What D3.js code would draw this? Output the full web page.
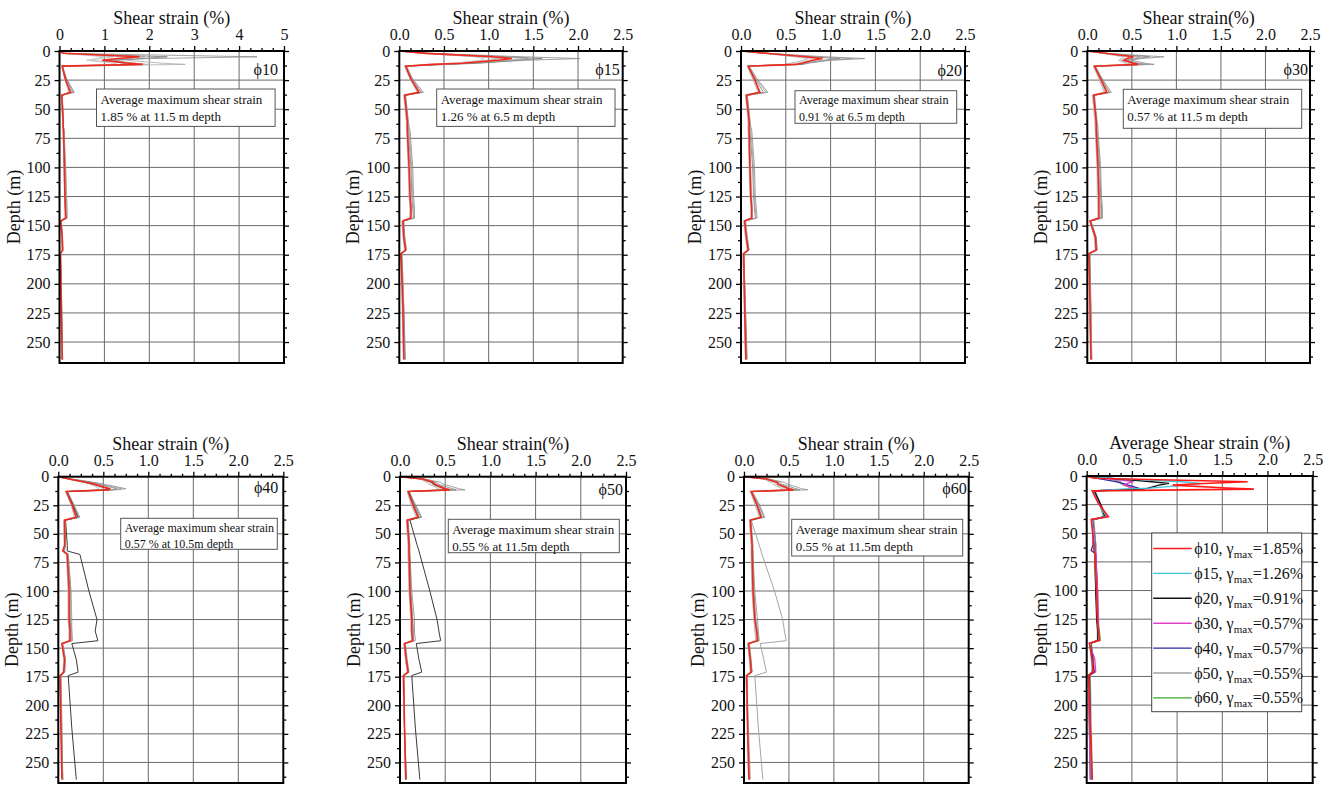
<!DOCTYPE html>
<html>
<head>
<meta charset="utf-8">
<script src="https://cdn.jsdelivr.net/npm/d3@7"></script>
<style>
  body { margin: 0; background: #fff; }
  svg { display: block; font-family: "Liberation Serif", "Times New Roman", serif; }
  svg text { font-family: "Liberation Serif", "Times New Roman", serif; }
</style>
</head>
<body>
<svg id="chart" width="1335" height="787"></svg>
<script>
// Depth grid (m) shared by every strain profile below
const depthGrid = [0, 2, 5, 6.5, 8, 10.5, 11.5, 13, 24, 35.5, 38, 60, 65, 68, 100, 125, 135, 143.5, 146, 160, 171, 174, 220, 265];
const depthTicks = [0, 25, 50, 75, 100, 125, 150, 175, 200, 225, 250];
const strainTicksWide = [0, 1, 2, 3, 4, 5];
const strainTicks = [0, 0.5, 1.0, 1.5, 2.0, 2.5];

// Average shear strain profiles (%) per friction angle
const meanPhi10 = [0, 0.08, 1.78, 1.30, 0.95, 1.55, 1.85, 0.06, 0.13, 0.24, 0.05, 0.08, 0.08, 0.09, 0.11, 0.12, 0.13, 0.14, 0.03, 0.06, 0.07, 0.02, 0.04, 0.06];
const meanPhi15 = [0, 0.30, 1.05, 1.26, 1.10, 0.70, 0.38, 0.07, 0.13, 0.22, 0.06, 0.09, 0.09, 0.09, 0.11, 0.12, 0.13, 0.13, 0.04, 0.05, 0.07, 0.02, 0.04, 0.05];
const meanPhi20 = [0, 0.28, 0.72, 0.91, 0.80, 0.68, 0.62, 0.08, 0.15, 0.21, 0.06, 0.09, 0.09, 0.09, 0.10, 0.11, 0.12, 0.12, 0.04, 0.06, 0.08, 0.03, 0.04, 0.055];
const meanPhi30 = [0, 0.20, 0.52, 0.45, 0.41, 0.52, 0.57, 0.08, 0.15, 0.22, 0.07, 0.10, 0.10, 0.10, 0.12, 0.13, 0.13, 0.13, 0.03, 0.09, 0.10, 0.02, 0.03, 0.04];
const meanPhi40 = [0, 0.12, 0.32, 0.40, 0.46, 0.57, 0.56, 0.09, 0.15, 0.20, 0.07, 0.07, 0.05, 0.10, 0.12, 0.12, 0.13, 0.13, 0.04, 0.07, 0.06, 0.02, 0.03, 0.04];
const meanPhi50 = [0, 0.25, 0.37, 0.38, 0.42, 0.50, 0.55, 0.09, 0.14, 0.20, 0.08, 0.10, 0.10, 0.10, 0.11, 0.13, 0.13, 0.14, 0.05, 0.07, 0.09, 0.04, 0.05, 0.065];
const meanPhi60 = [0, 0.25, 0.37, 0.38, 0.42, 0.50, 0.55, 0.08, 0.14, 0.19, 0.07, 0.09, 0.09, 0.09, 0.10, 0.12, 0.14, 0.15, 0.05, 0.07, 0.08, 0.03, 0.04, 0.055];

// Individual ground-motion profiles (%) per friction angle
const motionsPhi10 = [
  [0, 0.10, 4.40, 2.00, 1.20, 1.60, 1.90, 0.07, 0.15, 0.30, 0.06, 0.09, 0.09, 0.10, 0.13, 0.15, 0.16, 0.17, 0.03, 0.06, 0.07, 0.02, 0.04, 0.07],
  [0, 0.06, 1.40, 1.60, 1.50, 2.30, 2.80, 0.05, 0.14, 0.28, 0.05, 0.08, 0.08, 0.09, 0.12, 0.13, 0.14, 0.15, 0.02, 0.05, 0.06, 0.02, 0.04, 0.06],
  [0, 0.09, 2.40, 1.80, 1.10, 1.40, 1.60, 0.06, 0.16, 0.33, 0.05, 0.07, 0.07, 0.08, 0.10, 0.12, 0.13, 0.14, 0.03, 0.06, 0.07, 0.02, 0.05, 0.07],
  [0, 0.07, 1.20, 0.90, 0.70, 1.50, 2.00, 0.06, 0.12, 0.22, 0.04, 0.07, 0.08, 0.09, 0.11, 0.12, 0.13, 0.13, 0.03, 0.05, 0.06, 0.02, 0.03, 0.05],
  [0, 0.08, 1.90, 1.40, 1.00, 1.70, 1.50, 0.05, 0.13, 0.26, 0.06, 0.09, 0.09, 0.10, 0.14, 0.16, 0.17, 0.17, 0.04, 0.07, 0.08, 0.03, 0.05, 0.07],
  [0, 0.05, 1.00, 0.80, 0.60, 1.20, 1.30, 0.05, 0.11, 0.20, 0.05, 0.07, 0.07, 0.08, 0.10, 0.11, 0.12, 0.12, 0.02, 0.05, 0.06, 0.02, 0.04, 0.05]
];
const motionsPhi15 = [
  [0, 0.35, 1.40, 2.02, 1.40, 0.80, 0.50, 0.08, 0.15, 0.27, 0.07, 0.10, 0.11, 0.12, 0.15, 0.16, 0.17, 0.17, 0.05, 0.06, 0.08, 0.03, 0.05, 0.07],
  [0, 0.25, 0.90, 1.10, 1.05, 0.80, 0.45, 0.06, 0.12, 0.20, 0.05, 0.08, 0.08, 0.09, 0.10, 0.11, 0.12, 0.12, 0.03, 0.05, 0.06, 0.02, 0.04, 0.05],
  [0, 0.32, 1.20, 1.60, 1.30, 0.90, 0.55, 0.07, 0.14, 0.25, 0.06, 0.09, 0.10, 0.10, 0.13, 0.14, 0.15, 0.16, 0.04, 0.06, 0.07, 0.02, 0.05, 0.06],
  [0, 0.28, 0.95, 1.15, 0.95, 0.60, 0.30, 0.07, 0.13, 0.22, 0.06, 0.09, 0.09, 0.10, 0.12, 0.13, 0.14, 0.14, 0.04, 0.05, 0.07, 0.02, 0.04, 0.05],
  [0, 0.30, 1.10, 1.45, 1.20, 0.75, 0.40, 0.08, 0.14, 0.24, 0.07, 0.10, 0.10, 0.11, 0.14, 0.15, 0.16, 0.17, 0.05, 0.06, 0.08, 0.03, 0.05, 0.06],
  [0, 0.26, 0.85, 0.95, 0.90, 0.65, 0.35, 0.06, 0.12, 0.21, 0.05, 0.08, 0.08, 0.08, 0.10, 0.11, 0.12, 0.12, 0.03, 0.04, 0.06, 0.02, 0.03, 0.05]
];
const motionsPhi20 = [
  [0, 0.30, 0.95, 1.38, 1.00, 0.75, 0.70, 0.09, 0.18, 0.30, 0.07, 0.10, 0.11, 0.12, 0.15, 0.16, 0.17, 0.18, 0.05, 0.07, 0.09, 0.03, 0.05, 0.07],
  [0, 0.25, 0.60, 0.75, 0.70, 0.55, 0.50, 0.07, 0.13, 0.19, 0.05, 0.08, 0.08, 0.08, 0.09, 0.10, 0.11, 0.11, 0.03, 0.05, 0.07, 0.02, 0.04, 0.05],
  [0, 0.29, 0.80, 1.10, 0.90, 0.72, 0.68, 0.08, 0.16, 0.25, 0.06, 0.09, 0.10, 0.10, 0.13, 0.14, 0.15, 0.16, 0.04, 0.06, 0.08, 0.03, 0.05, 0.06],
  [0, 0.27, 0.68, 0.85, 0.82, 0.65, 0.58, 0.07, 0.14, 0.22, 0.06, 0.09, 0.09, 0.09, 0.11, 0.12, 0.13, 0.13, 0.04, 0.06, 0.08, 0.03, 0.04, 0.05],
  [0, 0.30, 0.75, 1.25, 0.95, 0.70, 0.60, 0.09, 0.17, 0.28, 0.07, 0.10, 0.10, 0.11, 0.14, 0.15, 0.16, 0.17, 0.05, 0.07, 0.09, 0.03, 0.05, 0.06],
  [0, 0.26, 0.65, 0.80, 0.75, 0.62, 0.55, 0.07, 0.14, 0.20, 0.05, 0.08, 0.08, 0.08, 0.10, 0.11, 0.12, 0.12, 0.03, 0.05, 0.07, 0.02, 0.04, 0.05]
];
const motionsPhi30 = [
  [0, 0.22, 0.86, 0.60, 0.50, 0.65, 0.75, 0.09, 0.17, 0.27, 0.08, 0.11, 0.12, 0.12, 0.15, 0.16, 0.17, 0.17, 0.04, 0.10, 0.11, 0.03, 0.04, 0.05],
  [0, 0.18, 0.42, 0.40, 0.36, 0.45, 0.50, 0.07, 0.13, 0.19, 0.06, 0.09, 0.09, 0.09, 0.11, 0.12, 0.12, 0.12, 0.03, 0.08, 0.09, 0.02, 0.03, 0.04],
  [0, 0.21, 0.70, 0.55, 0.45, 0.55, 0.65, 0.08, 0.16, 0.25, 0.07, 0.10, 0.11, 0.11, 0.14, 0.15, 0.16, 0.16, 0.04, 0.10, 0.11, 0.02, 0.04, 0.05],
  [0, 0.19, 0.48, 0.42, 0.40, 0.50, 0.55, 0.07, 0.14, 0.21, 0.06, 0.09, 0.09, 0.10, 0.12, 0.12, 0.13, 0.13, 0.03, 0.09, 0.10, 0.02, 0.03, 0.04],
  [0, 0.20, 0.60, 0.50, 0.43, 0.58, 0.68, 0.09, 0.16, 0.24, 0.08, 0.10, 0.10, 0.11, 0.13, 0.14, 0.15, 0.15, 0.04, 0.09, 0.10, 0.03, 0.04, 0.05],
  [0, 0.17, 0.40, 0.38, 0.35, 0.42, 0.45, 0.07, 0.13, 0.20, 0.06, 0.08, 0.09, 0.09, 0.11, 0.11, 0.12, 0.12, 0.03, 0.08, 0.09, 0.02, 0.03, 0.04]
];
const motionsPhi40 = [
  [0, 0.15, 0.40, 0.50, 0.60, 0.75, 0.65, 0.10, 0.17, 0.24, 0.08, 0.08, 0.07, 0.11, 0.14, 0.14, 0.15, 0.15, 0.05, 0.08, 0.07, 0.03, 0.04, 0.05],
  [0, 0.10, 0.28, 0.35, 0.40, 0.45, 0.45, 0.08, 0.14, 0.18, 0.06, 0.07, 0.06, 0.09, 0.11, 0.11, 0.12, 0.12, 0.04, 0.06, 0.06, 0.02, 0.03, 0.04],
  [0, 0.13, 0.36, 0.45, 0.52, 0.65, 0.60, 0.09, 0.16, 0.22, 0.07, 0.08, 0.06, 0.10, 0.13, 0.13, 0.14, 0.14, 0.04, 0.07, 0.07, 0.02, 0.03, 0.05],
  [0, 0.12, 0.30, 0.38, 0.44, 0.55, 0.52, 0.10, 0.16, 0.22, 0.08, 0.10, 0.10, 0.24, 0.34, 0.43, 0.41, 0.44, 0.15, 0.20, 0.22, 0.11, 0.15, 0.20],
  [0, 0.14, 0.38, 0.48, 0.55, 0.70, 0.62, 0.10, 0.17, 0.23, 0.08, 0.08, 0.06, 0.11, 0.14, 0.15, 0.15, 0.16, 0.05, 0.08, 0.07, 0.03, 0.04, 0.05],
  [0, 0.11, 0.30, 0.38, 0.42, 0.50, 0.50, 0.08, 0.14, 0.19, 0.06, 0.07, 0.05, 0.09, 0.11, 0.11, 0.12, 0.12, 0.04, 0.06, 0.05, 0.02, 0.03, 0.04]
];
const motionsPhi50 = [
  [0, 0.28, 0.45, 0.48, 0.55, 0.65, 0.72, 0.10, 0.17, 0.24, 0.09, 0.11, 0.11, 0.11, 0.13, 0.16, 0.16, 0.17, 0.06, 0.08, 0.10, 0.04, 0.05, 0.07],
  [0, 0.22, 0.30, 0.32, 0.36, 0.42, 0.45, 0.08, 0.12, 0.18, 0.07, 0.09, 0.09, 0.09, 0.10, 0.12, 0.12, 0.13, 0.04, 0.06, 0.08, 0.03, 0.05, 0.06],
  [0, 0.26, 0.40, 0.42, 0.48, 0.58, 0.62, 0.09, 0.16, 0.23, 0.08, 0.10, 0.10, 0.11, 0.12, 0.14, 0.15, 0.15, 0.05, 0.07, 0.09, 0.04, 0.05, 0.07],
  [0, 0.24, 0.35, 0.36, 0.40, 0.48, 0.52, 0.10, 0.15, 0.21, 0.11, 0.19, 0.21, 0.22, 0.33, 0.41, 0.43, 0.45, 0.18, 0.21, 0.24, 0.13, 0.17, 0.22],
  [0, 0.25, 0.38, 0.40, 0.45, 0.52, 0.58, 0.09, 0.15, 0.21, 0.08, 0.10, 0.10, 0.10, 0.12, 0.14, 0.14, 0.15, 0.05, 0.07, 0.09, 0.04, 0.05, 0.06],
  [0, 0.23, 0.33, 0.35, 0.38, 0.46, 0.50, 0.08, 0.13, 0.19, 0.07, 0.09, 0.09, 0.09, 0.10, 0.12, 0.13, 0.13, 0.05, 0.06, 0.08, 0.03, 0.05, 0.06]
];
const motionsPhi60 = [
  [0, 0.28, 0.45, 0.48, 0.55, 0.64, 0.71, 0.09, 0.17, 0.23, 0.08, 0.10, 0.10, 0.10, 0.12, 0.15, 0.16, 0.17, 0.06, 0.08, 0.09, 0.03, 0.05, 0.07],
  [0, 0.22, 0.30, 0.32, 0.36, 0.42, 0.45, 0.07, 0.12, 0.17, 0.06, 0.08, 0.08, 0.08, 0.09, 0.11, 0.12, 0.13, 0.04, 0.06, 0.07, 0.02, 0.04, 0.05],
  [0, 0.26, 0.40, 0.42, 0.48, 0.58, 0.62, 0.09, 0.16, 0.22, 0.07, 0.09, 0.10, 0.10, 0.11, 0.13, 0.15, 0.16, 0.05, 0.07, 0.09, 0.03, 0.04, 0.06],
  [0, 0.24, 0.35, 0.36, 0.40, 0.48, 0.52, 0.09, 0.15, 0.20, 0.08, 0.17, 0.19, 0.20, 0.34, 0.43, 0.45, 0.47, 0.18, 0.22, 0.25, 0.12, 0.16, 0.21],
  [0, 0.25, 0.38, 0.40, 0.45, 0.52, 0.58, 0.08, 0.15, 0.20, 0.07, 0.09, 0.09, 0.10, 0.11, 0.13, 0.15, 0.15, 0.05, 0.07, 0.08, 0.03, 0.04, 0.06],
  [0, 0.23, 0.33, 0.35, 0.38, 0.46, 0.50, 0.07, 0.13, 0.18, 0.06, 0.08, 0.08, 0.08, 0.09, 0.11, 0.13, 0.14, 0.04, 0.06, 0.07, 0.02, 0.04, 0.05]
];

const phiLabels = ["\u03D510", "\u03D515", "\u03D520", "\u03D530", "\u03D540", "\u03D550", "\u03D560"];
const gammaMax = ["1.85", "1.26", "0.91", "0.57", "0.57", "0.55", "0.55"];
const noteLines = [
  ["Average maximum shear strain", "1.85 % at 11.5 m depth"],
  ["Average maximum shear strain", "1.26 % at 6.5 m depth"],
  ["Average maximum shear strain", "0.91 % at 6.5 m depth"],
  ["Average maximum shear strain", "0.57 % at 11.5 m depth"],
  ["Average maximum shear strain", "0.57 % at 10.5m depth"],
  ["Average maximum shear strain", "0.55 % at 11.5m depth"],
  ["Average maximum shear strain", "0.55 % at 11.5m depth"]
];
const axisTitles = ["Shear strain (%)", "Shear strain (%)", "Shear strain (%)", "Shear strain(%)",
                    "Shear strain (%)", "Shear strain(%)", "Shear strain (%)", "Average Shear strain (%)"];

const meanSeries = [meanPhi10, meanPhi15, meanPhi20, meanPhi30, meanPhi40, meanPhi50, meanPhi60];
const motionSeries = [motionsPhi10, motionsPhi15, motionsPhi20, motionsPhi30, motionsPhi40, motionsPhi50, motionsPhi60];

// Layout and styling
const DEPTH_MAX = 268;
const SERIF = "'Liberation Serif', 'Times New Roman', serif";
const grayShades = ["#8c8c8c", "#a9a9a9", "#7a7a7a", "#b8b8b8", "#9a9a9a", "#c2c2c2"];
const avgColors = ["#ff1a1a", "#3ec6d6", "#111111", "#e040c8", "#2b2ba0", "#a0a0a0", "#3aa82a"];

const panels = [
  { x0: 59.5,  x1: 284,   y0: 51,    y1: 363, wide: true,  note: { dx: 37,   dy: 38,   w: 178.6, h: 37.4, fs: 13 }, phiDy: 24, phiDx: 6 },
  { x0: 399.3, x1: 622.7, y0: 51,    y1: 363, note: { dx: 37.4, dy: 38,   w: 178.3, h: 37.4, fs: 13 }, phiDy: 24, phiDx: 3 },
  { x0: 741,   x1: 965,   y0: 51,    y1: 363, note: { dx: 54,   dy: 39.7, w: 161.7, h: 32.6, fs: 12 }, phiDy: 25, phiDx: 3 },
  { x0: 1087.3,x1: 1310,  y0: 51,    y1: 363, note: { dx: 36,   dy: 38.3, w: 178.4, h: 39,   fs: 13 }, phiDy: 24, phiDx: 2 },
  { x0: 58.3,  x1: 283.3, y0: 476.7, y1: 783, note: { dx: 62.4, dy: 41.6, w: 156.6, h: 31,   fs: 12 }, phiDy: 16, phiDx: 5, outlier: 3, outlierColor: "#3a3a3a" },
  { x0: 400,   x1: 626,   y0: 476.7, y1: 783, note: { dx: 48.3, dy: 42.6, w: 171,   h: 33.4, fs: 13 }, phiDy: 18, phiDx: 3, outlier: 3, outlierColor: "#3a3a3a" },
  { x0: 744,   x1: 968.7, y0: 476.7, y1: 783, note: { dx: 47.7, dy: 42.6, w: 171,   h: 36.7, fs: 13 }, phiDy: 17, phiDx: 2, outlier: 3, outlierColor: "#a5a5a5" },
  { x0: 1086.7,x1: 1312.7,y0: 476,   y1: 783, summary: true }
];

const svg = d3.select("#chart");
const defs = svg.append("defs");

function profile(values) {
  return values.map((v, i) => [depthGrid[i], v]);
}

function styleAxis(sel) {
  sel.attr("font-family", SERIF).attr("font-size", 16);
  sel.select(".domain").remove();
  sel.selectAll(".tick line").attr("stroke", "#000").attr("stroke-width", 1.3);
  sel.selectAll(".tick text").attr("fill", "#111");
}

function drawPanel(p, idx) {
  const xMax = p.wide ? 5 : 2.5;
  const xt = p.wide ? strainTicksWide : strainTicks;
  const x = d3.scaleLinear().domain([0, xMax]).range([p.x0, p.x1]);
  const y = d3.scaleLinear().domain([0, DEPTH_MAX]).range([p.y0, p.y1]);
  const g = svg.append("g");

  // grid
  g.append("g").selectAll("line").data(xt.slice(1, -1)).join("line")
    .attr("x1", d => x(d)).attr("x2", d => x(d)).attr("y1", p.y0).attr("y2", p.y1)
    .attr("stroke", "#6a6a6a").attr("stroke-width", 1);
  g.append("g").selectAll("line").data(depthTicks.slice(1)).join("line")
    .attr("x1", p.x0).attr("x2", p.x1).attr("y1", d => y(d)).attr("y2", d => y(d))
    .attr("stroke", "#6a6a6a").attr("stroke-width", 1);

  // clip
  const cid = "clip" + idx;
  defs.append("clipPath").attr("id", cid).append("rect")
    .attr("x", p.x0).attr("y", p.y0).attr("width", p.x1 - p.x0).attr("height", p.y1 - p.y0);
  const plot = g.append("g").attr("clip-path", `url(#${cid})`);
  const line = d3.line().x(d => x(d[1])).y(d => y(d[0]));

  if (!p.summary) {
    const motions = motionSeries[idx];
    plot.selectAll("path.motion").data(motions).join("path").attr("class", "motion")
      .attr("d", d => line(profile(d)))
      .attr("fill", "none")
      .attr("stroke", (d, i) => i === p.outlier ? p.outlierColor : grayShades[i % grayShades.length])
      .attr("stroke-width", (d, i) => i === p.outlier ? 1 : 0.8);
    plot.append("path").attr("d", line(profile(meanSeries[idx])))
      .attr("fill", "none").attr("stroke", "#ee2a1e").attr("stroke-width", 1.6);
  } else {
    const order = [6, 5, 4, 3, 2, 1, 0];
    plot.selectAll("path.avg").data(order).join("path").attr("class", "avg")
      .attr("d", k => line(profile(meanSeries[k])))
      .attr("fill", "none").attr("stroke", k => avgColors[k])
      .attr("stroke-width", k => k === 0 ? 1.6 : 1.3);
  }

  // frame
  g.append("rect").attr("x", p.x0).attr("y", p.y0).attr("width", p.x1 - p.x0).attr("height", p.y1 - p.y0)
    .attr("fill", "none").attr("stroke", "#000").attr("stroke-width", 2);

  // axes
  const minorX = d3.range(0, xMax + 1e-9, xMax / 20).filter(v => !xt.some(t => Math.abs(t - v) < 1e-6));
  const minorY = d3.range(12.5, DEPTH_MAX, 25);
  const fmt = p.wide ? d3.format("d") : d3.format(".1f");

  g.append("g").attr("transform", `translate(0,${p.y0})`)
    .call(d3.axisTop(x).tickValues(xt).tickSize(5).tickPadding(6).tickFormat(fmt)).call(styleAxis);
  g.append("g").attr("transform", `translate(0,${p.y0})`)
    .call(d3.axisTop(x).tickValues(minorX).tickSize(3).tickFormat("")).call(styleAxis);
  g.append("g").attr("transform", `translate(${p.x0},0)`)
    .call(d3.axisLeft(y).tickValues(depthTicks).tickSize(5).tickPadding(4).tickFormat(d3.format("d"))).call(styleAxis);
  g.append("g").attr("transform", `translate(${p.x0},0)`)
    .call(d3.axisLeft(y).tickValues(minorY).tickSize(3).tickFormat("")).call(styleAxis);
  g.append("g").attr("transform", `translate(${p.x1},0)`)
    .call(d3.axisRight(y).tickValues(depthTicks).tickSize(5).tickFormat("")).call(styleAxis);
  g.append("g").attr("transform", `translate(${p.x1},0)`)
    .call(d3.axisRight(y).tickValues(minorY).tickSize(3).tickFormat("")).call(styleAxis);

  // axis titles
  g.append("text").attr("x", (p.x0 + p.x1) / 2).attr("y", p.y0 - 27)
    .attr("text-anchor", "middle").attr("font-size", 18).attr("fill", "#111")
    .text(axisTitles[idx]);
  g.append("text")
    .attr("transform", `translate(${p.x0 - 40},${(p.y0 + p.y1) / 2}) rotate(-90)`)
    .attr("text-anchor", "middle").attr("font-size", 18).attr("fill", "#111")
    .text("Depth (m)");

  if (!p.summary) {
    // friction angle tag
    g.append("text").attr("x", p.x1 - p.phiDx).attr("y", p.y0 + p.phiDy)
      .attr("text-anchor", "end").attr("font-size", 16).attr("fill", "#111")
      .text(phiLabels[idx]);

    // peak annotation
    const n = p.note;
    const bx = p.x0 + n.dx, by = p.y0 + n.dy;
    g.append("rect").attr("x", bx).attr("y", by).attr("width", n.w).attr("height", n.h)
      .attr("fill", "#fff").attr("stroke", "#555").attr("stroke-width", 1);
    g.append("text").attr("x", bx + 4).attr("y", by + n.fs + 1.5)
      .attr("font-size", n.fs).attr("fill", "#111").text(noteLines[idx][0]);
    g.append("text").attr("x", bx + 4).attr("y", by + 2 * n.fs + 6)
      .attr("font-size", n.fs).attr("fill", "#111").text(noteLines[idx][1]);
  } else {
    // legend
    const lx = 1151.7, ly = 533, lw = 150, lh = 178.7, rowH = 24.9;
    const lg = g.append("g");
    lg.append("rect").attr("x", lx).attr("y", ly).attr("width", lw).attr("height", lh)
      .attr("fill", "#fff").attr("stroke", "#444").attr("stroke-width", 1);
    const rows = lg.selectAll("g.row").data(d3.range(7)).join("g").attr("class", "row")
      .attr("transform", k => `translate(${lx},${ly + 15.5 + k * rowH})`);
    rows.append("line").attr("x1", 1.5).attr("x2", 40).attr("y1", 0).attr("y2", 0)
      .attr("stroke", k => avgColors[k]).attr("stroke-width", 1.4);
    const t = rows.append("text").attr("x", 42.5).attr("y", 5.5)
      .attr("font-size", 16).attr("fill", "#111");
    t.append("tspan").text(k => phiLabels[k] + ", \u03B3");
    t.append("tspan").attr("dy", 4).attr("font-size", 11).text("max");
    t.append("tspan").attr("dy", -4).text(k => "=" + gammaMax[k] + "%");
  }
}

panels.forEach(drawPanel);
</script>
</body>
</html>
